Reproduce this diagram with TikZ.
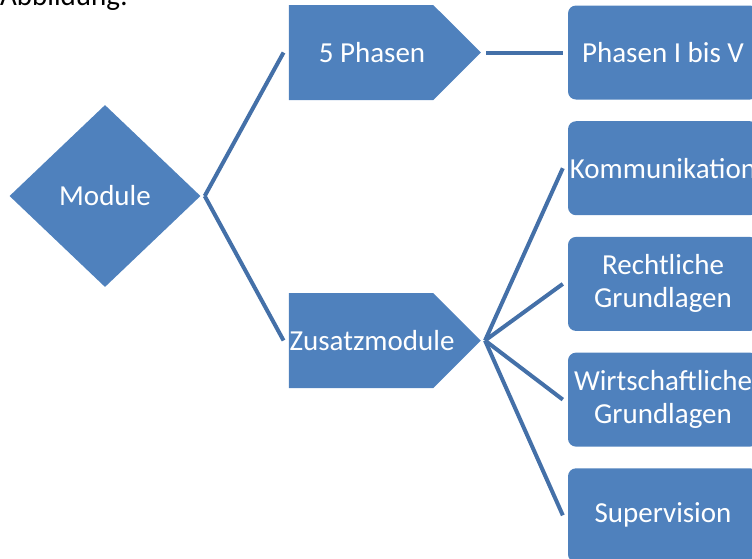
\documentclass[tikz,border=0pt]{standalone}
\usepackage{fontspec}
\setmainfont{Carlito}
\usetikzlibrary{positioning, shapes.geometric, shapes.symbols}
\definecolor{smartBlue}{HTML}{4F81BD}
\definecolor{linkBlue}{HTML}{4470A8}

\begin{document}
\begin{tikzpicture}[x=1pt, y=-1pt, node distance=21.3pt,
    every node/.style={font=\fontsize{29}{33}\selectfont, text=white, inner sep=0pt},
    rootbox/.style={diamond, fill=smartBlue, minimum width=191pt, minimum height=182pt},
    phasebox/.style={signal, signal to=east, signal pointer angle=90, fill=smartBlue,
      minimum width=192pt, minimum height=95pt},
    phasetext/.style={xshift=11pt},
    leafbox/.style={rectangle, rounded corners=8pt, fill=smartBlue,
      minimum width=190pt, minimum height=94pt, align=center},
    link/.style={draw=linkBlue, line width=4pt}]
  \useasboundingbox (0,0) rectangle (752,558);
  \node[text=black, anchor=base west] (cap) at (0,5) {Abbildung:};
  % root and the two branches
  \node[rootbox] (mod) at (105,196) {Module};
  \node[phasebox, label={[phasetext]center:5 Phasen}] (pha) at (361,52.5) {};
  \node[phasebox, label={[phasetext]center:Zusatzmodule}] (zus) at (361,340.5) {};
  % leaves
  \node[leafbox] (pv) at (663,52.5) {Phasen I bis V};
  \node[leafbox, below=of pv] (kom) {Kommunikation};
  \node[leafbox, below=of kom] (rec) {Rechtliche\\Grundlagen};
  \node[leafbox, below=of rec] (wir) {Wirtschaftliche\\Grundlagen};
  \node[leafbox, below=of wir] (sup) {Supervision};
  % connectors
  \draw[link] ([xshift=4pt]mod.east) -- ([xshift=-5pt]pha.west);
  \draw[link] ([xshift=4pt]mod.east) -- ([xshift=-5pt]zus.west);
  \draw[link] ([xshift=5pt]pha.east) -- ([xshift=-5pt]pv.west);
  \foreach \leaf in {kom, rec, wir, sup}
    \draw[link] ([xshift=4pt]zus.east) -- ([xshift=-5pt]\leaf.west);
\end{tikzpicture}
\end{document}
